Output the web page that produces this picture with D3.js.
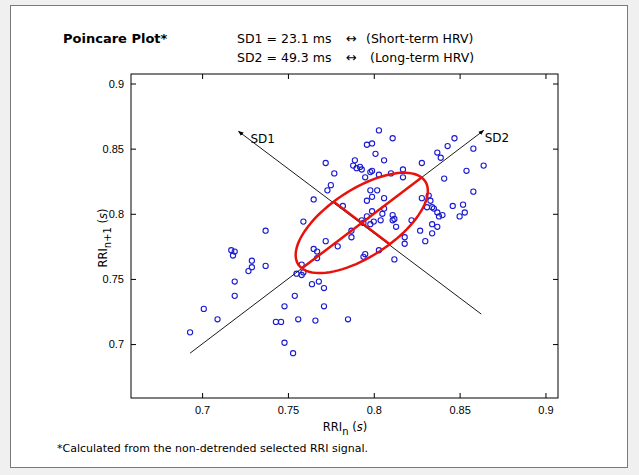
<!DOCTYPE html>
<meta charset="utf-8">
<title>Poincare Plot</title>
<style>
  body { margin: 0; background: #f0f0f0; }
  svg { display: block; font-family: "DejaVu Sans", sans-serif; }
  .tick text { font-size: 11px; fill: #000; }
  .tick line { stroke: #000; }
</style>
<body>
<svg width="639" height="475"></svg>
<script src="https://d3js.org/d3.v7.min.js"></script>
<script>
  // RR interval pairs (RRI_n, RRI_n+1), seconds
  var rriN = [0.693, 0.701, 0.709, 0.717, 0.719, 0.718, 0.719, 0.719, 0.727, 0.729, 0.729, 0.737, 0.737,
    0.743, 0.746, 0.748, 0.748, 0.753, 0.754, 0.756, 0.755, 0.758, 0.759, 0.758, 0.764, 0.768, 0.771,
    0.771, 0.766, 0.785, 0.765, 0.767, 0.767, 0.772, 0.779, 0.759, 0.765, 0.772, 0.777, 0.775, 0.773,
    0.782, 0.789, 0.788, 0.790, 0.792, 0.793, 0.796, 0.799, 0.795, 0.798, 0.799, 0.798, 0.802, 0.803,
    0.811, 0.801, 0.806, 0.803, 0.810, 0.817, 0.817, 0.828, 0.837, 0.839, 0.843, 0.847, 0.858, 0.864,
    0.854, 0.841, 0.858, 0.806, 0.799, 0.796, 0.828, 0.832, 0.833, 0.831, 0.834, 0.835, 0.837, 0.838,
    0.840, 0.846, 0.852, 0.853, 0.850, 0.834, 0.837, 0.834, 0.827, 0.830, 0.822, 0.818, 0.818, 0.812,
    0.799, 0.806, 0.805, 0.811, 0.812, 0.811, 0.813, 0.800, 0.798, 0.804, 0.793, 0.794, 0.787, 0.787,
    0.795, 0.794, 0.803, 0.796];
  var rriN1 = [0.709, 0.727, 0.719, 0.772, 0.771, 0.768, 0.748, 0.737, 0.756, 0.764, 0.759, 0.787, 0.760,
    0.717, 0.717, 0.729, 0.701, 0.693, 0.737, 0.719, 0.754, 0.753, 0.755, 0.761, 0.746, 0.748, 0.743,
    0.729, 0.718, 0.719, 0.773, 0.771, 0.766, 0.779, 0.775, 0.794, 0.811, 0.839, 0.831, 0.822, 0.818,
    0.806, 0.841, 0.837, 0.835, 0.836, 0.834, 0.853, 0.854, 0.828, 0.832, 0.833, 0.818, 0.818, 0.864,
    0.858, 0.846, 0.841, 0.830, 0.831, 0.834, 0.828, 0.839, 0.847, 0.843, 0.852, 0.858, 0.850, 0.837,
    0.833, 0.827, 0.817, 0.812, 0.813, 0.810, 0.812, 0.814, 0.810, 0.805, 0.805, 0.804, 0.801, 0.798,
    0.799, 0.806, 0.807, 0.801, 0.798, 0.792, 0.790, 0.785, 0.787, 0.779, 0.795, 0.782, 0.777, 0.765,
    0.802, 0.804, 0.800, 0.799, 0.796, 0.795, 0.790, 0.794, 0.792, 0.795, 0.795, 0.793, 0.787, 0.782,
    0.769, 0.767, 0.772, 0.798];

  // ellipse parameters (s)
  var centre = 0.793, sd1 = 0.0231, sd2 = 0.0493;
  // SD axes: [start, arrow tip]
  var sd2Axis = [[0.693, 0.693], [0.864, 0.864]];
  var sd1Axis = [[0.8626, 0.723], [0.7212, 0.8633]];

  var ticks = [0.7, 0.75, 0.8, 0.85, 0.9];
  var domain = [0.6586, 0.9073];

  const svg = d3.select('svg');

  // panel
  svg.append('rect').attr('x', 10.5).attr('y', 5.5).attr('width', 617).attr('height', 462)
    .attr('fill', '#fff').attr('stroke', '#7a7a7a');

  var x = d3.scaleLinear().domain(domain).range([131, 558]);
  var y = d3.scaleLinear().domain(domain).range([398, 74]);
  var fmt = d => String(+d.toFixed(2));

  var gx = svg.append('g').attr('transform', 'translate(0,398)')
    .call(d3.axisBottom(x).tickValues(ticks).tickFormat(fmt).tickSizeInner(-5).tickSizeOuter(0).tickPadding(8));
  var gy = svg.append('g').attr('transform', 'translate(131,0)')
    .call(d3.axisLeft(y).tickValues(ticks).tickFormat(fmt).tickSizeInner(-5).tickSizeOuter(0).tickPadding(7));
  var gt = svg.append('g').attr('transform', 'translate(0,74)')
    .call(d3.axisTop(x).tickValues(ticks).tickFormat('').tickSizeInner(-5).tickSizeOuter(0));
  var gr = svg.append('g').attr('transform', 'translate(558,0)')
    .call(d3.axisRight(y).tickValues(ticks).tickFormat('').tickSizeInner(-5).tickSizeOuter(0));
  [gx, gy, gt, gr].forEach(g => g.select('.domain').remove());

  svg.append('rect').attr('x', 131).attr('y', 74).attr('width', 427).attr('height', 324)
    .attr('fill', 'none').attr('stroke', '#000');

  // points
  svg.append('g').selectAll('circle')
    .data(rriN.map((d, i) => [d, rriN1[i]]))
    .enter().append('circle')
    .attr('cx', d => x(d[0]))
    .attr('cy', d => y(d[1]))
    .attr('r', 2.6)
    .attr('fill', 'none')
    .attr('stroke', '#1a1ad0')
    .attr('stroke-width', 1.1);

  // arrows
  svg.append('defs').append('marker')
    .attr('id', 'arrow').attr('viewBox', '0 0 10 10').attr('refX', 9).attr('refY', 5)
    .attr('markerWidth', 6).attr('markerHeight', 6).attr('orient', 'auto')
    .append('path').attr('d', 'M0,1L10,5L0,9z').attr('fill', '#000');

  [sd2Axis, sd1Axis].forEach(a => {
    svg.append('line')
      .attr('x1', x(a[0][0])).attr('y1', y(a[0][1]))
      .attr('x2', x(a[1][0])).attr('y2', y(a[1][1]))
      .attr('stroke', '#000').attr('stroke-width', 0.9)
      .attr('marker-end', 'url(#arrow)');
  });
  svg.append('text').attr('x', x(sd1Axis[1][0]) + 12).attr('y', y(sd1Axis[1][1]) + 12)
    .attr('font-size', 12).text('SD1');
  svg.append('text').attr('x', x(sd2Axis[1][0]) + 1).attr('y', y(sd2Axis[1][1]) + 12)
    .attr('font-size', 12).text('SD2');

  // ellipse, rotated 45 degrees
  var r2 = Math.SQRT1_2;
  var pts = d3.range(0, 361, 4).map(t => {
    var a = t * Math.PI / 180;
    var u = sd2 * Math.cos(a), v = sd1 * Math.sin(a);
    return [centre + r2 * (u - v), centre + r2 * (u + v)];
  });
  var line = d3.line().x(d => x(d[0])).y(d => y(d[1]));
  var red = svg.append('g').attr('fill', 'none').attr('stroke', '#e8120c').attr('stroke-width', 2.5);
  red.append('path').attr('d', line(pts));
  red.append('path').attr('d', line([[centre - sd2 * r2, centre - sd2 * r2], [centre + sd2 * r2, centre + sd2 * r2]]));
  red.append('path').attr('d', line([[centre + sd1 * r2, centre - sd1 * r2], [centre - sd1 * r2, centre + sd1 * r2]]));

  // titles
  svg.append('text').attr('x', 63).attr('y', 43).attr('font-size', 13).attr('font-weight', 'bold').text('Poincare Plot*');
  var head = [['SD1 = 23.1 ms', '(Short-term HRV)', 43, 366], ['SD2 = 49.3 ms', '(Long-term HRV)', 62, 370]];
  head.forEach(h => {
    svg.append('text').attr('x', 237).attr('y', h[2]).attr('font-size', 12.5).text(h[0]);
    svg.append('text').attr('x', 346).attr('y', h[2]).attr('font-size', 13).text('\u2194');
    svg.append('text').attr('x', h[3]).attr('y', h[2]).attr('font-size', 12.5).text(h[1]);
  });

  // axis labels
  var xl = svg.append('text').attr('x', 345).attr('y', 431).attr('text-anchor', 'middle').attr('font-size', 11.5);
  xl.append('tspan').text('RRI');
  xl.append('tspan').attr('dy', 4).attr('font-size', 10).text('n');
  xl.append('tspan').attr('dy', -4).text(' (');
  xl.append('tspan').attr('font-style', 'italic').text('s');
  xl.append('tspan').text(')');

  var yl = svg.append('text').attr('transform', 'translate(107,238) rotate(-90)')
    .attr('text-anchor', 'middle').attr('font-size', 11.5);
  yl.append('tspan').text('RRI');
  yl.append('tspan').attr('dy', 4).attr('font-size', 10).text('n+1');
  yl.append('tspan').attr('dy', -4).text(' (');
  yl.append('tspan').attr('font-style', 'italic').text('s');
  yl.append('tspan').text(')');

  svg.append('text').attr('x', 57).attr('y', 452).attr('font-size', 11)
    .text('*Calculated from the non-detrended selected RRI signal.');
</script>
</body>
